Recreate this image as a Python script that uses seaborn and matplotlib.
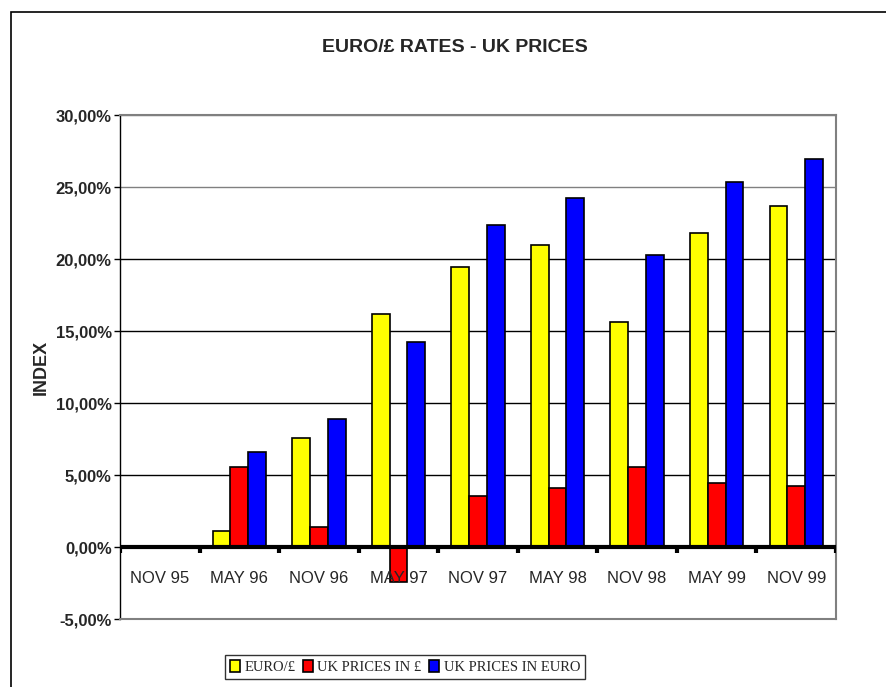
import numpy as np
import pandas as pd
import seaborn as sns
import matplotlib.pyplot as plt
from matplotlib.patches import Rectangle

periods = ['NOV 95', 'MAY 96', 'NOV 96', 'MAY 97', 'NOV 97',
           'MAY 98', 'NOV 98', 'MAY 99', 'NOV 99']
euro_rate = [0.0, 1.11, 7.6, 16.2, 19.45, 21.0, 15.6, 21.8, 23.7]
uk_prices_gbp = [0.0, 5.53, 1.37, -2.43, 3.57, 4.1, 5.53, 4.42, 4.26]
uk_prices_euro = [0.0, 6.62, 8.92, 14.24, 22.39, 24.26, 20.3, 25.35, 26.97]

series_names = ['EURO/\u00a3', 'UK PRICES IN \u00a3', 'UK PRICES IN EURO']
series_colors = ['#ffff00', '#ff0000', '#0000ff']
y_ticks = [-5, 0, 5, 10, 15, 20, 25, 30]

df = pd.DataFrame({
    'period': periods * 3,
    'series': np.repeat(series_names, len(periods)),
    'value': euro_rate + uk_prices_gbp + uk_prices_euro,
})

sns.set_style('white')
narrow = ['Liberation Sans Narrow', 'Liberation Sans', 'DejaVu Sans']
plt.rcParams['font.family'] = narrow

fig = plt.figure(figsize=(8.86, 6.87), dpi=100)
# axes placed in pixel terms: left 120, right 836, top 115, bottom 619
W, H = 886, 687
ax = fig.add_axes([120 / W, 1 - 619 / H, (836 - 120) / W, (619 - 115) / H])

sns.barplot(data=df, x='period', y='value', hue='series', order=periods,
            hue_order=series_names, palette=series_colors, width=0.67,
            edgecolor='black', linewidth=1.2, saturation=1, ax=ax)

ax.set_ylim(-5, 30)
ax.set_xlim(-0.5, len(periods) - 0.5)
ax.set_yticks(y_ticks)
ax.set_yticklabels([f'{v:.2f}%'.replace('.', ',') for v in y_ticks],
                   fontsize=12, fontweight='bold')
ax.tick_params(axis='y', length=4, width=1, color='black', pad=2, left=True)
for v in y_ticks[1:]:
    ax.axhline(v, color='black' if v < 25 else '#808080', lw=1, zorder=0)

# category labels inside the plot area, below the zero line
ax.set_xticks([])
ax.set_xlabel('')
for i, p in enumerate(periods):
    ax.text(i, -2.2, p, ha='center', va='center', fontsize=12)

# thick zero line with tick marks between categories
ax.axhline(0, color='black', lw=3, zorder=5)
ax.vlines(np.arange(len(periods) + 1) - 0.5, -0.45, 0, color='black', lw=3, zorder=5)

for side in ['top', 'right', 'bottom']:
    ax.spines[side].set_color('#808080')
    ax.spines[side].set_linewidth(1.5)
ax.spines['left'].set_color('black')
ax.spines['left'].set_linewidth(1)

ax.set_ylabel('INDEX', fontsize=13, fontweight='bold', family='Liberation Sans', labelpad=4)
fig.text(455 / W, 1 - 47 / H, 'EURO/\u00a3 RATES - UK PRICES', ha='center', va='center',
         fontsize=14, fontweight='bold')

handles, labels = ax.get_legend_handles_labels()
leg = ax.legend(handles, labels, loc='center', bbox_to_anchor=(405 / W, 1 - 667 / H),
                bbox_transform=fig.transFigure, ncol=3, frameon=True, fancybox=False,
                edgecolor='black', handlelength=0.7, handleheight=0.9, handletextpad=0.3,
                columnspacing=0.5, borderpad=0.35,
                prop={'family': 'Liberation Serif', 'size': 10.5})
leg.get_frame().set_linewidth(1)

# outer chart border
fig.patches.append(Rectangle((11 / W, -0.1), 1.2, 1 - 12 / H + 0.1, transform=fig.transFigure,
                             fill=False, edgecolor='black', lw=1.2))

fig.savefig('out.png', dpi=100)
